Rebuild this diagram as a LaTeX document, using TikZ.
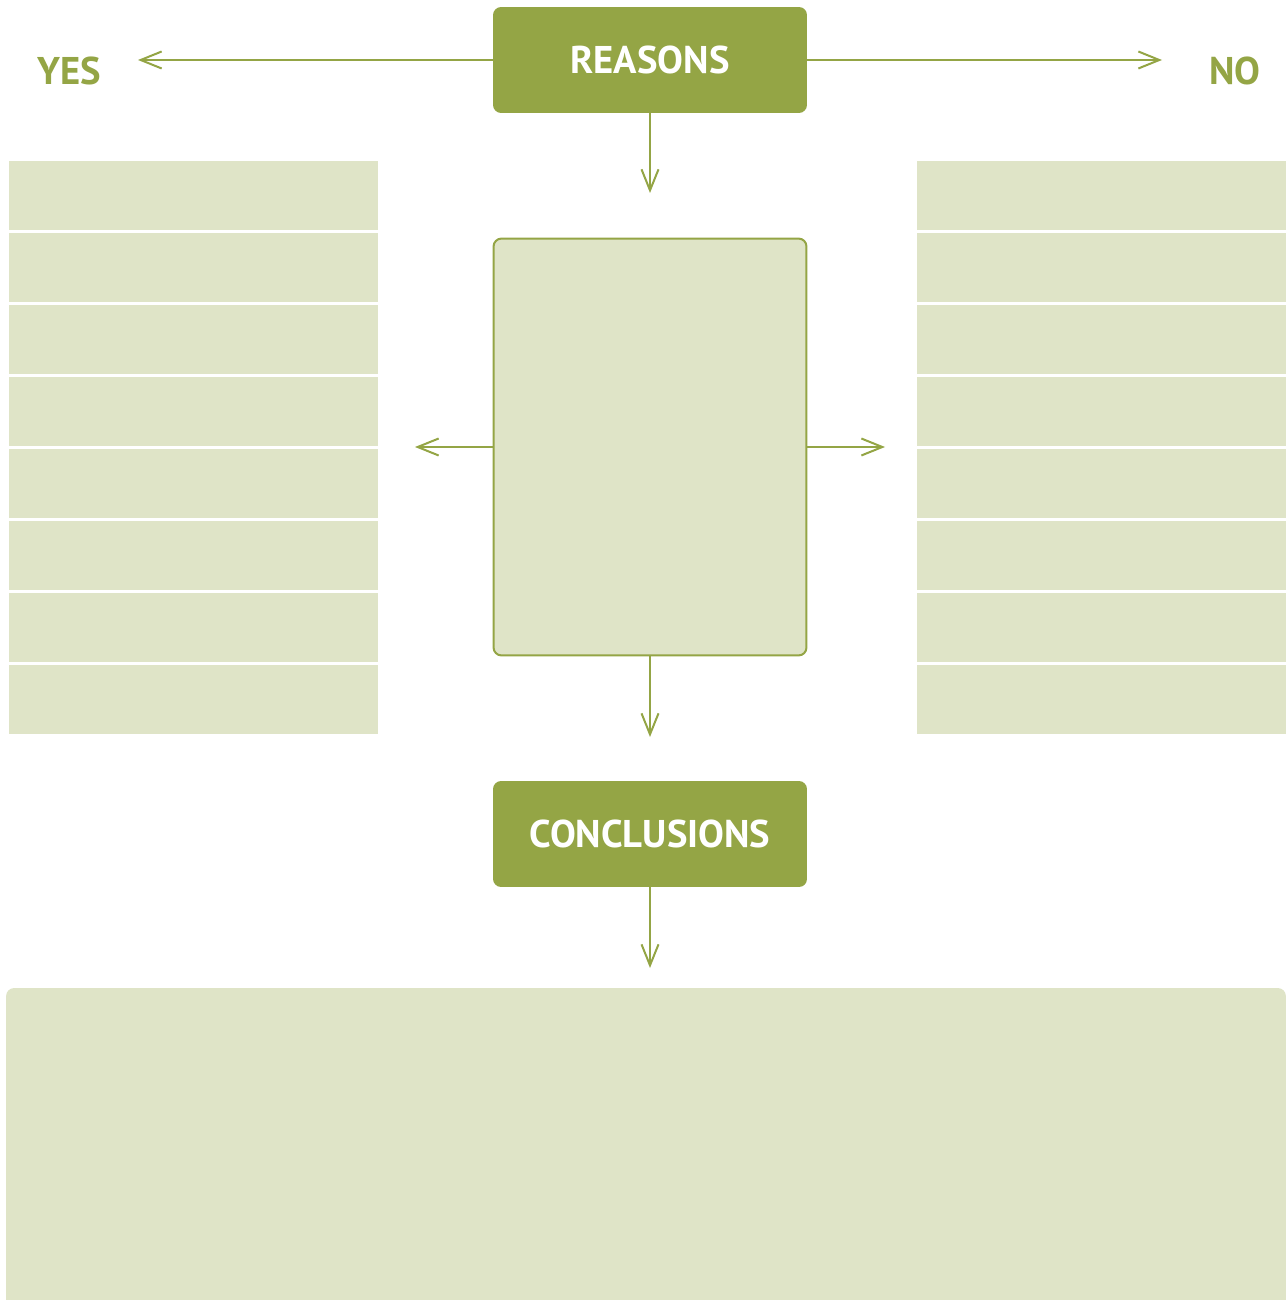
\documentclass[tikz,border=0pt]{standalone}
\usepackage{fontspec}
\setmainfont{PT Sans}
\usetikzlibrary{positioning,arrows.meta}
\definecolor{olivepr}{RGB}{148,165,69}
\definecolor{palepr}{RGB}{223,228,199}

\begin{document}
\begin{tikzpicture}[x=0.02cm, y=-0.02cm,
    head/.style={fill=olivepr, text=white, font=\bfseries\fontsize{22}{25}\selectfont, rounded corners=0.16cm, minimum width=6.28cm, minimum height=2.12cm},
    side/.style={text=olivepr, font=\bfseries\fontsize{22}{25}\selectfont},
    row/.style={fill=palepr, minimum width=7.38cm, minimum height=1.38cm, inner sep=0pt},
    link/.style={-{Straight Barb[length=0.42cm, width=0.34cm]}, olivepr, line width=0.04cm}]
  \useasboundingbox (0,0) rectangle (1286,1300);

  % top row
  \node[head] (reasons) at (650,60) {REASONS};
  \node[side] (yes) at (69,71) {YES};
  \node[side] (no) at (1235,71) {NO};
  \coordinate (yestip) at (138,60);
  \coordinate (notip) at (1162,60);
  \draw[link] (reasons.west) -- (yestip);
  \draw[link] (reasons.east) -- (notip);

  % the two columns
  \foreach \i in {1,...,8} {
    \node[row] (yes\i) at (193.5,{195.5+72*(\i-1)}) {};
    \node[row] (no\i) at (1101.5,{195.5+72*(\i-1)}) {};
  }

  % middle box
  \node[draw=olivepr, line width=0.04cm, fill=palepr, rounded corners=0.16cm, minimum width=6.26cm, minimum height=8.34cm] (mid) at (650,447) {};
  \coordinate (middown) at (650,193);
  \coordinate (midleft) at (415,447);
  \coordinate (midright) at (885,447);
  \draw[link] (reasons.south) -- (middown);
  \draw[link] (mid.west) -- (midleft);
  \draw[link] (mid.east) -- (midright);

  % conclusions
  \node[head] (concl) at (650,834) {CONCLUSIONS};
  \coordinate (concltip) at (650,737);
  \coordinate (notestip) at (650,968);
  \draw[link] (mid.south) -- (concltip);
  \draw[link] (concl.south) -- (notestip);
  \node[fill=palepr, rounded corners=0.16cm, minimum width=25.6cm, minimum height=6.6cm] (notes) at (646,1153) {};
\end{tikzpicture}
\end{document}
